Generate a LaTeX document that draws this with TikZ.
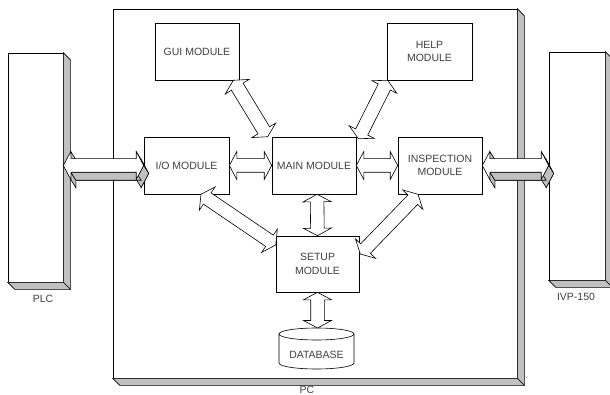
\documentclass[tikz,border=0pt]{standalone}
\usepackage{fontspec}
\setmainfont{Liberation Sans}
\usetikzlibrary{calc}
\definecolor{sidegray}{HTML}{C0C0C0}
\newcommand{\arL}{7.5pt}
\newcommand{\arH}{14pt}
\newcommand{\arW}{6.8pt}
\newcommand{\arrowpts}[3]{%
 \path let \p1=($(#2)-(#1)$), \n1={atan2(\y1,\x1)} in
  (#1) coordinate (#3-1)
  ($(#1)+(\n1:\arL)+(\n1+90:\arH)$) coordinate (#3-2)
  ($(#1)+(\n1:\arL)+(\n1+90:\arW)$) coordinate (#3-3)
  ($(#2)+(\n1+180:\arL)+(\n1+90:\arW)$) coordinate (#3-4)
  ($(#2)+(\n1+180:\arL)+(\n1+90:\arH)$) coordinate (#3-5)
  (#2) coordinate (#3-6)
  ($(#2)+(\n1+180:\arL)+(\n1-90:\arH)$) coordinate (#3-7)
  ($(#2)+(\n1+180:\arL)+(\n1-90:\arW)$) coordinate (#3-8)
  ($(#1)+(\n1:\arL)+(\n1-90:\arW)$) coordinate (#3-9)
  ($(#1)+(\n1:\arL)+(\n1-90:\arH)$) coordinate (#3-10);}
\newcommand{\arrowpoly}[2]{%
 \draw[#2] (#1-1)--(#1-2)--(#1-3)--(#1-4)--(#1-5)--(#1-6)--(#1-7)--(#1-8)--(#1-9)--(#1-10)--cycle;}
\newcommand{\blockarrow}[3]{%
 \arrowpts{#1}{#2}{#3}\arrowpoly{#3}{blk}}
\newcommand{\solidarrow}[3]{%
 \coordinate (#3-A) at ($(#1)+(5,8)$);
 \coordinate (#3-B) at ($(#2)+(5,8)$);
 \arrowpts{#3-A}{#3-B}{#3b}
 \arrowpts{#1}{#2}{#3}
 \arrowpoly{#3b}{side}
 \foreach \i/\j in {2/3,5/6,6/7,8/9,9/10}
   {\draw[side] (#3-\i)--(#3-\j)--(#3b-\j)--(#3b-\i)--cycle;}
 \arrowpoly{#3}{blk}}
\newcommand{\solidbox}[1]{%
 \draw[side] (#1.north east) -- ($(#1.north east)+(7,7)$) -- ($(#1.south east)+(7,7)$) -- (#1.south east) -- cycle;
 \draw[side] (#1.south west) -- (#1.south east) -- ($(#1.south east)+(7,7)$) -- ($(#1.south west)+(7,7)$) -- cycle;}
\begin{document}
\begin{tikzpicture}[x=1pt,y=-1pt,
  line width=0.6pt, line join=miter,
  blk/.style={draw=black, fill=white},
  side/.style={draw=black, fill=sidegray},
  face/.style={draw=black, fill=white, inner sep=0pt},
  module/.style={draw=black, fill=white, inner sep=0pt, align=center,
    font=\fontsize{10.5}{13.5}\selectfont, text=black!75},
  lbl/.style={inner sep=0pt, font=\fontsize{10.5}{13.5}\selectfont, text=black!75}]
\useasboundingbox (0,0) rectangle (610,395);
% outer 3D boxes
\node[face, minimum width=404pt, minimum height=369pt] (pc) at (315,193.5) {};
\solidbox{pc}
\node[face, minimum width=55pt, minimum height=229pt] (plc) at (35.5,167.5) {};
\solidbox{plc}
\node[face, minimum width=56pt, minimum height=228pt] (ivp) at (577,166) {};
\solidbox{ivp}
\node[lbl] (plcl) at (43,299) {PLC};
\node[lbl] (ivpl) at (576,297) {IVP-150};
\node[lbl] (pcl) at (307,390) {PC};
% modules
\node[module, minimum width=84pt, minimum height=57pt] (gui) at (197,51.5) {GUI MODULE};
\node[module, minimum width=85pt, minimum height=57pt] (help) at (429.5,51.5) {HELP\\MODULE};
\node[module, minimum width=85pt, minimum height=57pt] (io) at (186.5,165.5) {I/O MODULE};
\node[module, minimum width=84pt, minimum height=57pt] (main) at (314,165.5) {MAIN MODULE};
\node[module, minimum width=84pt, minimum height=57pt] (insp) at (440,165.5) {INSPECTION\\MODULE};
\node[module, minimum width=83pt, minimum height=56pt] (setup) at (317.5,264) {SETUP\\MODULE};
% database cylinder
\coordinate (dbc) at (316.5,348.5);
\draw[blk] ($(dbc)+(-37.5,-14.5)$) -- ($(dbc)+(-37.5,14.5)$)
  arc[start angle=180,end angle=360,x radius=37.5pt,y radius=6pt]
  -- ($(dbc)+(37.5,-14.5)$)
  arc[start angle=0,end angle=180,x radius=37.5pt,y radius=6pt] -- cycle;
\draw ($(dbc)+(-37.5,-14.5)$) arc[start angle=180,end angle=360,x radius=37.5pt,y radius=6pt];
\node[lbl] (db) at (316.5,355) {DATABASE};
% arrow end points
\coordinate (g1) at ($(gui.south east)+(-6,0)$);
\coordinate (g2) at ($(main.north west)+(-4,0)$);
\coordinate (h1) at ($(help.south west)+(1,0)$);
\coordinate (h2) at ($(main.north east)+(2,2)$);
\coordinate (ms1) at ($(main.south)+(3,0)$);
\coordinate (ms2) at (setup.north);
\coordinate (sd1) at (setup.south);
\coordinate (sd2) at ($(dbc)+(1,-20.5)$);
\coordinate (i1) at ($(io.south)+(14.5,0)$);
\coordinate (i2) at ($(setup.west)+(0,-19)$);
\coordinate (s1) at ($(insp.south)+(-22,0)$);
\coordinate (s2) at ($(setup.east)+(1,-10)$);
\coordinate (p1) at (plc.east |- io.west);
\coordinate (v2) at (ivp.west |- insp.east);
% block arrows
\blockarrow{g1}{g2}{ag}
\blockarrow{h1}{h2}{ah}
\blockarrow{io.east}{main.west}{aim}
\blockarrow{main.east}{insp.west}{ami}
\blockarrow{ms1}{ms2}{ams}
\blockarrow{sd1}{sd2}{asd}
\blockarrow{i1}{i2}{ais}
\blockarrow{s1}{s2}{ass}
\solidarrow{p1}{io.west}{apl}
\solidarrow{insp.east}{v2}{aiv}
\end{tikzpicture}
\end{document}
